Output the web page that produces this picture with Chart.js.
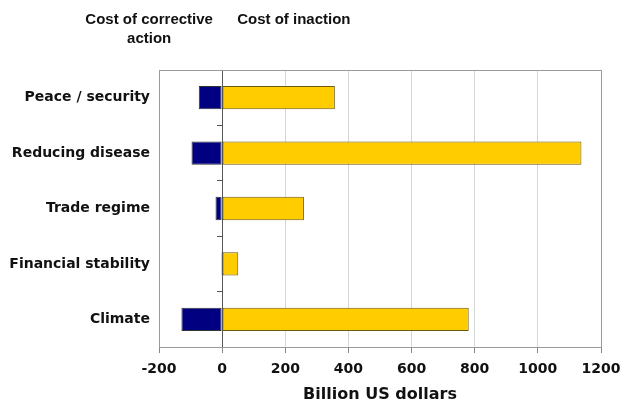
<!DOCTYPE html>
<html lang="en">
<head>
  <meta charset="UTF-8" />
  <title>Cost of corrective action vs cost of inaction</title>
  <script src="https://cdn.jsdelivr.net/npm/chart.js"></script>
  <style>
    body {
      margin: 0;
      background: #ffffff;
    }

    .wrap {
      width: 624px;
      height: 404px;
      position: relative;
    }
  </style>
</head>
<body>
  <div class="wrap">
    <canvas id="costChart"></canvas>
  </div>

  <script>
    // --- Data (billion US dollars)
    const categories = ['Peace / security', 'Reducing disease', 'Trade regime', 'Financial stability', 'Climate'];
    const correctiveCost = [-74, -97, -21, -3, -129];
    const inactionCost = [357, 1138, 259, 51, 781];
    const headerLeft = ['Cost of corrective', 'action'];
    const headerRight = 'Cost of inaction';
    const axisTitle = 'Billion US dollars';

    const labelFont = 'DejaVu Sans, Verdana, sans-serif';

    // plot frame + header labels above the chart
    const framePlugin = {
      id: 'frame',
      beforeDatasetsDraw(chart) {
        const { ctx, chartArea: a } = chart;
        ctx.save();
        ctx.strokeStyle = '#9a9a9a';
        ctx.lineWidth = 1;
        ctx.strokeRect(Math.round(a.left) + 0.5, Math.round(a.top) + 0.5, Math.round(a.right - a.left), Math.round(a.bottom - a.top));
        ctx.restore();
      },
      afterDraw(chart) {
        const { ctx } = chart;
        const x0 = chart.scales.x.getPixelForValue(0);
        ctx.save();
        ctx.fillStyle = '#111';
        ctx.font = 'bold 15px "Liberation Sans", Arial, sans-serif';
        ctx.textBaseline = 'middle';
        ctx.textAlign = 'center';
        ctx.fillText(headerLeft[0], x0 - 73, 20);
        ctx.fillText(headerLeft[1], x0 - 73, 39);
        ctx.textAlign = 'left';
        ctx.fillText(headerRight, x0 + 15, 20);
        ctx.restore();
      }
    };

    const ctx = document.getElementById('costChart').getContext('2d');
    new Chart(ctx, {
      type: 'bar',
      data: {
        labels: categories,
        datasets: [
          {
            label: 'Cost of corrective action',
            data: correctiveCost,
            backgroundColor: '#000080',
            borderColor: '#333333',
            borderWidth: 1,
            borderSkipped: false,
            categoryPercentage: 1,
            barPercentage: 0.42
          },
          {
            label: 'Cost of inaction',
            data: inactionCost,
            backgroundColor: '#ffcc00',
            borderColor: '#6b5a10',
            borderWidth: 1,
            borderSkipped: false,
            categoryPercentage: 1,
            barPercentage: 0.42
          }
        ]
      },
      options: {
        indexAxis: 'y',
        responsive: true,
        maintainAspectRatio: false,
        animation: false,
        layout: {
          padding: { top: 70, right: 23, bottom: 0, left: 0 }
        },
        plugins: {
          legend: { display: false },
          tooltip: { enabled: false }
        },
        scales: {
          x: {
            min: -200,
            max: 1200,
            stacked: true,
            ticks: {
              stepSize: 200,
              color: '#111',
              padding: 8,
              callback: v => String(v),
              font: { family: labelFont, size: 14, weight: 'bold' }
            },
            grid: {
              color: '#d6d6d6',
              tickColor: '#888',
              tickLength: 6
            },
            border: { color: '#888' },
            title: {
              display: true,
              text: axisTitle,
              color: '#111',
              padding: { top: 0, bottom: 0 },
              font: { family: labelFont, size: 16, weight: 'bold' }
            },
            afterFit(scale) {
              scale.height = 57;
              scale.paddingRight = 0;
            }
          },
          y: {
            stacked: true,
            ticks: {
              color: '#111',
              padding: 9,
              font: { family: labelFont, size: 14, weight: 'bold' }
            },
            grid: { display: false, drawTicks: false },
            border: { display: false },
            afterFit(scale) { scale.width = 159; }
          },
          // zero line with small category ticks
          yZero: {
            type: 'category',
            position: { x: 0 },
            offset: true,
            ticks: { display: false },
            grid: {
              offset: true,
              drawOnChartArea: false,
              tickLength: 5,
              tickColor: '#555'
            },
            border: { color: '#555', width: 1 }
          }
        }
      },
      plugins: [framePlugin]
    });
  </script>
</body>
</html>
